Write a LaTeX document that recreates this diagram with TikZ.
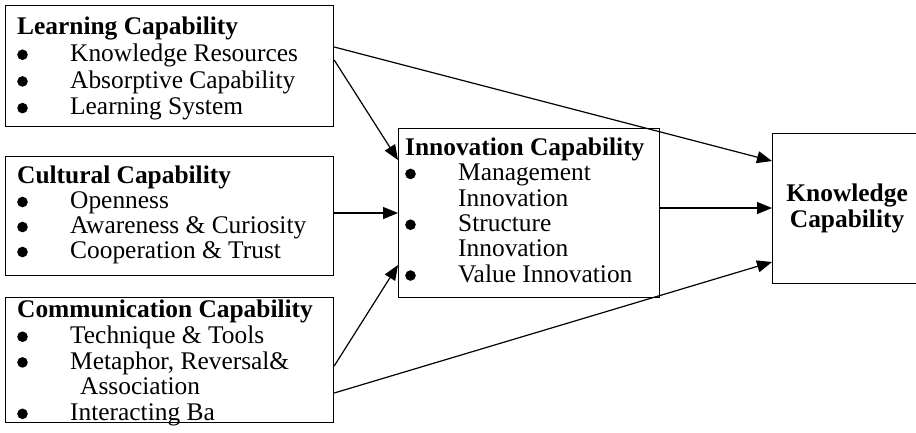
\documentclass[tikz,border=0pt]{standalone}
\usepackage{fontspec}
\setmainfont{Liberation Serif}
\usetikzlibrary{arrows.meta}
\newcommand{\bdot}{\tikz[x=1pt, y=1pt, baseline=0pt]\fill (5.3,6.8) circle[radius=5.3pt];}
\newcommand{\bitem}[2][53pt]{\makebox[#1][l]{\bdot}#2}

\begin{document}
\begin{tikzpicture}[x=1pt, y=-1pt, line width=1.2pt,
        font=\fontsize{25.4}{25.5}\selectfont,
        capbox/.style={rectangle, draw=black, anchor=north west, inner sep=0pt},
        captext/.style={anchor=north west, align=left, inner sep=0pt},
        arr/.style={-{Triangle[length=15pt, width=12pt]}}]
    \useasboundingbox (0,0) rectangle (916,432);
    \clip (0,0) rectangle (916,432);
    % boxes
    \node[capbox, minimum width=328pt, minimum height=121pt] (learn) at (5,5) {};
    \node[capbox, minimum width=328pt, minimum height=119pt] (cult)  at (5,156) {};
    \node[capbox, minimum width=328pt, minimum height=125pt] (comm)  at (5,297) {};
    \node[capbox, minimum width=261pt, minimum height=169pt] (innov) at (398,128) {};
    \node[capbox, minimum width=149pt, minimum height=150pt, align=center,
          font=\fontsize{25.4}{25.5}\selectfont\bfseries] (know) at (772,133)
        {Knowledge\\Capability};
    % texts
    \node[captext, font=\fontsize{25.4}{26.7}\selectfont] (learntxt) at ([xshift=12pt, yshift=-12pt]learn.north west)
        {\textbf{Learning Capability}\\
         \bitem{Knowledge Resources}\\
         \bitem{Absorptive Capability}\\
         \bitem{Learning System}};
    \node[captext, font=\fontsize{25.4}{25}\selectfont] (culttxt) at ([xshift=12pt, yshift=-10pt]cult.north west)
        {\textbf{Cultural Capability}\\
         \bitem{Openness}\\
         \bitem{Awareness \& Curiosity}\\
         \bitem{Cooperation \& Trust}};
    \node[captext, font=\fontsize{25.4}{25.7}\selectfont] (commtxt) at ([xshift=12pt, yshift=-3pt]comm.north west)
        {\textbf{Communication Capability}\\
         \bitem{Technique \& Tools}\\
         \bitem{Metaphor, Reversal\&}\\
         \hspace*{63pt}Association\\
         \bitem{Interacting Ba}};
    \node[captext, font=\fontsize{25.4}{25.4}\selectfont] (innovtxt) at ([xshift=7pt, yshift=-9.5pt]innov.north west)
        {\textbf{Innovation Capability}\\
         \bitem{Management}\\
         \hspace*{53pt}Innovation\\
         \bitem{Structure}\\
         \hspace*{53pt}Innovation\\
         \bitem{Value Innovation}};
    % arrows
    \foreach \a/\ya/\b/\yb in {learn/47/know/161, learn/60/innov/160, cult/213/innov/213,
                               comm/366/innov/265, comm/393/know/262, innov/208/know/208}
        \draw[arr] (\a.east |- 0,\ya) -- (\b.west |- 0,\yb);
\end{tikzpicture}
\end{document}
